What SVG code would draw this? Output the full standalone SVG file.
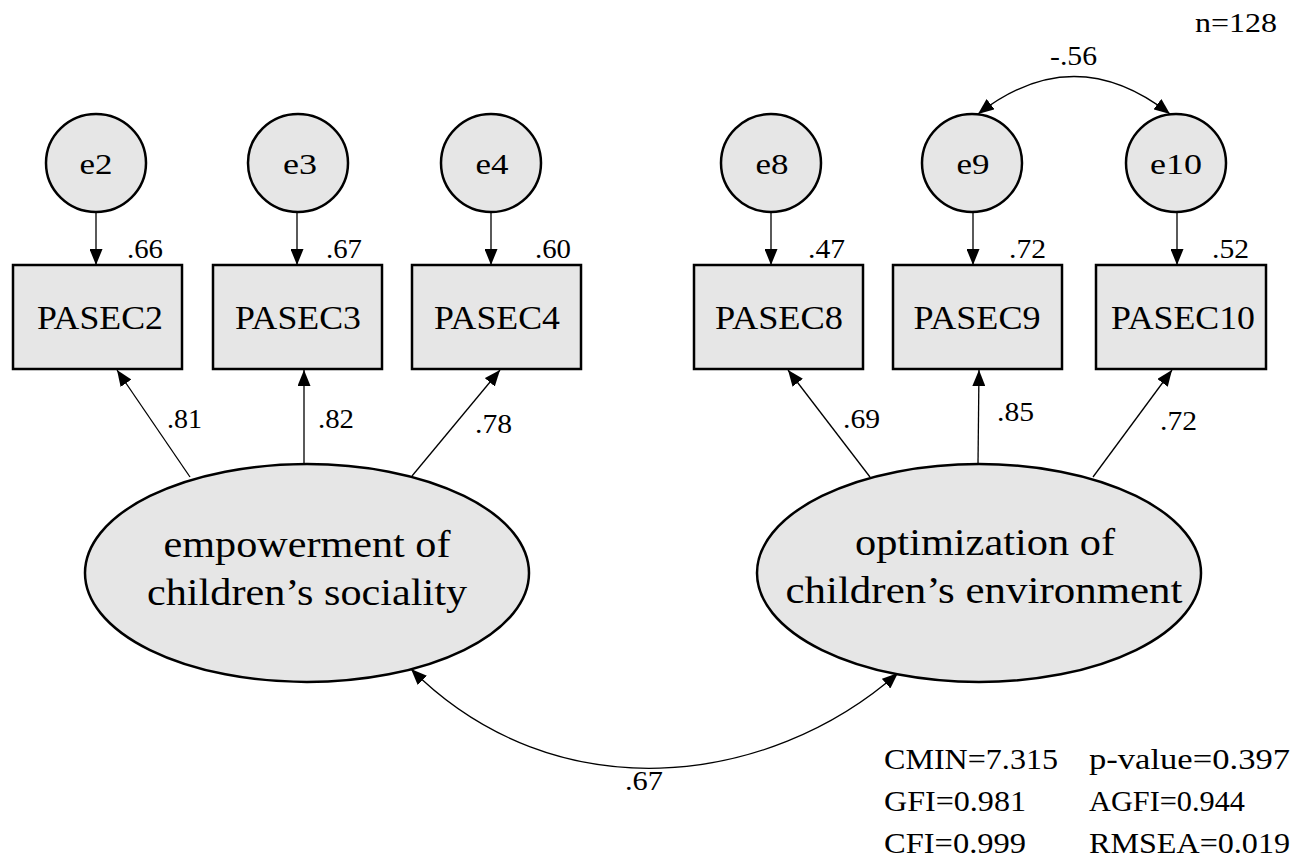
<svg xmlns="http://www.w3.org/2000/svg" width="1303" height="867" viewBox="0 0 1303 867">
<style>
.obs{fill:#e6e6e6;stroke:#000;stroke-width:2.5}
.lat{fill:#e6e6e6;stroke:#000;stroke-width:2.5}
.t{fill:#000}
.c{stroke:#000;stroke-width:1.3;fill:none}
</style>
<defs>
<marker id="ah" viewBox="0 0 16 13" refX="16" refY="6.5" markerWidth="16" markerHeight="13" markerUnits="userSpaceOnUse" orient="auto-start-reverse"><path d="M0,0 L16,6.5 L0,13 z" fill="#000"/></marker>
</defs>
<rect width="1303" height="867" fill="#fff"/>
<g font-family="'Liberation Serif', 'DejaVu Serif', 'Times New Roman', serif">
<g id="connectors">
<path class="c" d="M96,213 L96,265" marker-end="url(#ah)"/>
<path class="c" d="M297,213 L297,265" marker-end="url(#ah)"/>
<path class="c" d="M491,213 L491,265" marker-end="url(#ah)"/>
<path class="c" d="M771,213 L771,265" marker-end="url(#ah)"/>
<path class="c" d="M973,213 L973,265" marker-end="url(#ah)"/>
<path class="c" d="M1177,213 L1177,265" marker-end="url(#ah)"/>
<path class="c" d="M190,477 L117,370" marker-end="url(#ah)"/>
<path class="c" d="M304,464 L304,370" marker-end="url(#ah)"/>
<path class="c" d="M412,476 L500,370" marker-end="url(#ah)"/>
<path class="c" d="M870,477 L788,370" marker-end="url(#ah)"/>
<path class="c" d="M978,464 L979,370" marker-end="url(#ah)"/>
<path class="c" d="M1093,477 L1172,370" marker-end="url(#ah)"/>
<path class="c" d="M411,669 C555,813 768,788 898,673" marker-start="url(#ah)" marker-end="url(#ah)"/>
<path class="c" d="M978,114 Q1074,39 1170,114" marker-start="url(#ah)" marker-end="url(#ah)"/>
<text class="t" x="167" y="428" font-size="28" textLength="35" lengthAdjust="spacingAndGlyphs">.81</text>
<text class="t" x="318" y="428" font-size="28" textLength="36" lengthAdjust="spacingAndGlyphs">.82</text>
<text class="t" x="475" y="433" font-size="28" textLength="37" lengthAdjust="spacingAndGlyphs">.78</text>
<text class="t" x="843" y="428" font-size="28" textLength="37" lengthAdjust="spacingAndGlyphs">.69</text>
<text class="t" x="997" y="421" font-size="28" textLength="37" lengthAdjust="spacingAndGlyphs">.85</text>
<text class="t" x="1160" y="430" font-size="28" textLength="37" lengthAdjust="spacingAndGlyphs">.72</text>
<text class="t" x="625" y="790" font-size="28" textLength="38" lengthAdjust="spacingAndGlyphs">.67</text>
<text class="t" x="1050" y="65" font-size="28" textLength="47" lengthAdjust="spacingAndGlyphs">-.56</text>
</g>

<g id="e2"><ellipse class="obs" cx="96" cy="163" rx="50" ry="49"/><text class="t" x="96" y="174" font-size="30" text-anchor="middle" textLength="33" lengthAdjust="spacingAndGlyphs">e2</text></g>
<g id="e3"><ellipse class="obs" cx="298" cy="163" rx="50" ry="49"/><text class="t" x="300" y="174" font-size="30" text-anchor="middle" textLength="34" lengthAdjust="spacingAndGlyphs">e3</text></g>
<g id="e4"><ellipse class="obs" cx="491" cy="163" rx="50" ry="49"/><text class="t" x="492" y="174" font-size="30" text-anchor="middle" textLength="33" lengthAdjust="spacingAndGlyphs">e4</text></g>
<g id="e8"><ellipse class="obs" cx="771" cy="163" rx="50" ry="49"/><text class="t" x="772" y="174" font-size="30" text-anchor="middle" textLength="33" lengthAdjust="spacingAndGlyphs">e8</text></g>
<g id="e9"><ellipse class="obs" cx="972" cy="163" rx="50" ry="49"/><text class="t" x="973" y="174" font-size="30" text-anchor="middle" textLength="33" lengthAdjust="spacingAndGlyphs">e9</text></g>
<g id="e10"><ellipse class="obs" cx="1176" cy="163" rx="50" ry="49"/><text class="t" x="1176" y="174" font-size="30" text-anchor="middle" textLength="52" lengthAdjust="spacingAndGlyphs">e10</text></g>

<g id="PASEC2"><rect class="obs" x="13" y="265" width="169" height="104"/><text class="t" x="100" y="329" font-size="34" text-anchor="middle" textLength="126" lengthAdjust="spacingAndGlyphs">PASEC2</text><text class="t" x="127" y="258" font-size="28" textLength="36" lengthAdjust="spacingAndGlyphs">.66</text></g>
<g id="PASEC3"><rect class="obs" x="213" y="265" width="169" height="104"/><text class="t" x="298" y="329" font-size="34" text-anchor="middle" textLength="126" lengthAdjust="spacingAndGlyphs">PASEC3</text><text class="t" x="326" y="258" font-size="28" textLength="36" lengthAdjust="spacingAndGlyphs">.67</text></g>
<g id="PASEC4"><rect class="obs" x="412" y="265" width="169" height="104"/><text class="t" x="497" y="329" font-size="34" text-anchor="middle" textLength="126" lengthAdjust="spacingAndGlyphs">PASEC4</text><text class="t" x="535" y="258" font-size="28" textLength="36" lengthAdjust="spacingAndGlyphs">.60</text></g>
<g id="PASEC8"><rect class="obs" x="694" y="265" width="169" height="104"/><text class="t" x="779" y="329" font-size="34" text-anchor="middle" textLength="128" lengthAdjust="spacingAndGlyphs">PASEC8</text><text class="t" x="808" y="258" font-size="28" textLength="37" lengthAdjust="spacingAndGlyphs">.47</text></g>
<g id="PASEC9"><rect class="obs" x="893" y="265" width="169" height="104"/><text class="t" x="977" y="329" font-size="34" text-anchor="middle" textLength="127" lengthAdjust="spacingAndGlyphs">PASEC9</text><text class="t" x="1009" y="258" font-size="28" textLength="37" lengthAdjust="spacingAndGlyphs">.72</text></g>
<g id="PASEC10"><rect class="obs" x="1096" y="265" width="170" height="104"/><text class="t" x="1183" y="329" font-size="34" text-anchor="middle" textLength="144" lengthAdjust="spacingAndGlyphs">PASEC10</text><text class="t" x="1212" y="258" font-size="28" textLength="37" lengthAdjust="spacingAndGlyphs">.52</text></g>

<g id="F1"><ellipse class="lat" cx="307" cy="573" rx="222" ry="109"/>
<text class="t" x="307" y="557" font-size="38" text-anchor="middle" textLength="287" lengthAdjust="spacingAndGlyphs">empowerment of</text>
<text class="t" x="307" y="605" font-size="38" text-anchor="middle" textLength="320" lengthAdjust="spacingAndGlyphs">children’s sociality</text></g>
<g id="F2"><ellipse class="lat" cx="979" cy="573" rx="222" ry="109"/>
<text class="t" x="985" y="555" font-size="38" text-anchor="middle" textLength="260" lengthAdjust="spacingAndGlyphs">optimization of</text>
<text class="t" x="984" y="603" font-size="38" text-anchor="middle" textLength="397" lengthAdjust="spacingAndGlyphs">children’s environment</text></g>

<g id="fit">
<text class="t" x="1195" y="32" font-size="28" textLength="82" lengthAdjust="spacingAndGlyphs">n=128</text>
<text class="t" x="884" y="769" font-size="29" textLength="174" lengthAdjust="spacingAndGlyphs">CMIN=7.315</text>
<text class="t" x="1089" y="769" font-size="29" textLength="201" lengthAdjust="spacingAndGlyphs">p-value=0.397</text>
<text class="t" x="884" y="811" font-size="29" textLength="142" lengthAdjust="spacingAndGlyphs">GFI=0.981</text>
<text class="t" x="1089" y="811" font-size="29" textLength="156" lengthAdjust="spacingAndGlyphs">AGFI=0.944</text>
<text class="t" x="884" y="853" font-size="29" textLength="142" lengthAdjust="spacingAndGlyphs">CFI=0.999</text>
<text class="t" x="1089" y="853" font-size="29" textLength="201" lengthAdjust="spacingAndGlyphs">RMSEA=0.019</text>
</g>
</g>
</svg>
